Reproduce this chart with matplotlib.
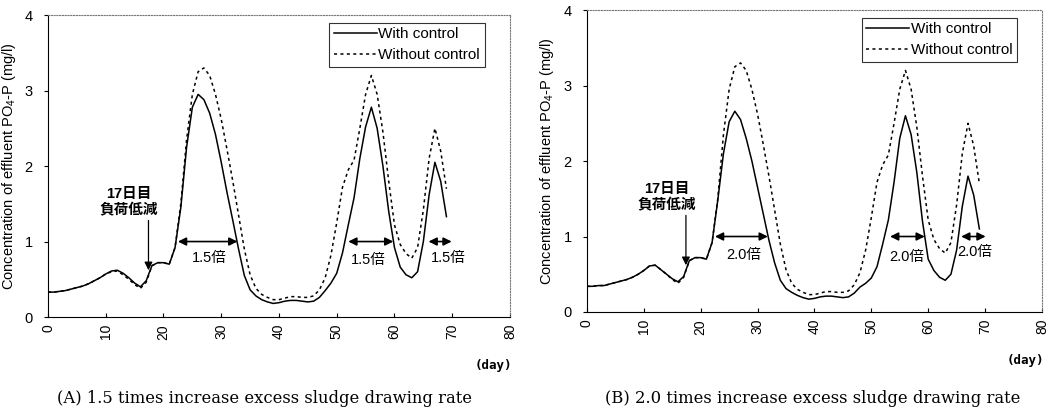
import matplotlib
matplotlib.use('Agg')
import matplotlib.pyplot as plt

plt.rcParams['font.family'] = ['Liberation Sans', 'Noto Sans CJK JP']
plt.rcParams['mathtext.fontset'] = 'custom'
plt.rcParams['mathtext.rm'] = 'Liberation Sans'
plt.rcParams['mathtext.it'] = 'Liberation Sans'

# 数据 (按天读取)
days = list(range(70))

a_with = [0.33, 0.33, 0.34, 0.35, 0.37, 0.39, 0.41, 0.44, 0.48, 0.52,
          0.57, 0.61, 0.62, 0.58, 0.52, 0.45, 0.40, 0.48, 0.68, 0.72,
          0.72, 0.70, 0.92, 1.45, 2.25, 2.78, 2.95, 2.88, 2.70, 2.42,
          2.05, 1.65, 1.28, 0.90, 0.55, 0.36, 0.28, 0.23, 0.20, 0.18,
          0.19, 0.21, 0.22, 0.22, 0.21, 0.20, 0.21, 0.26, 0.35, 0.45,
          0.58, 0.85, 1.22, 1.58, 2.10, 2.52, 2.78, 2.50, 2.00, 1.40,
          0.92, 0.66, 0.56, 0.52, 0.60, 1.00, 1.62, 2.05, 1.80, 1.33]
a_without = [0.33, 0.33, 0.34, 0.35, 0.37, 0.39, 0.41, 0.44, 0.48, 0.52,
             0.57, 0.60, 0.61, 0.56, 0.50, 0.43, 0.38, 0.46, 0.68, 0.72,
             0.72, 0.70, 0.92, 1.50, 2.35, 2.95, 3.25, 3.30, 3.20, 2.95,
             2.62, 2.22, 1.80, 1.35, 0.90, 0.56, 0.38, 0.30, 0.26, 0.23,
             0.23, 0.25, 0.27, 0.27, 0.26, 0.26, 0.28, 0.36, 0.52, 0.82,
             1.25, 1.72, 1.95, 2.08, 2.50, 2.95, 3.20, 2.95, 2.45, 1.80,
             1.22, 0.96, 0.84, 0.78, 0.92, 1.42, 2.10, 2.50, 2.20, 1.70]
b_with = [0.34, 0.34, 0.35, 0.35, 0.37, 0.39, 0.41, 0.43, 0.46, 0.50,
          0.55, 0.61, 0.62, 0.56, 0.50, 0.44, 0.40, 0.47, 0.68, 0.72,
          0.72, 0.70, 0.92, 1.48, 2.10, 2.52, 2.66, 2.55, 2.30, 2.00,
          1.65, 1.30, 0.95, 0.65, 0.42, 0.31, 0.26, 0.22, 0.19, 0.17,
          0.18, 0.20, 0.21, 0.21, 0.20, 0.19, 0.20, 0.25, 0.33, 0.38,
          0.45, 0.60, 0.90, 1.22, 1.72, 2.30, 2.60, 2.35, 1.85, 1.20,
          0.70, 0.55, 0.46, 0.42, 0.50, 0.82, 1.40, 1.80, 1.55, 1.10]
b_without = [0.34, 0.34, 0.35, 0.35, 0.37, 0.39, 0.41, 0.43, 0.46, 0.50,
             0.55, 0.61, 0.62, 0.56, 0.50, 0.43, 0.38, 0.46, 0.68, 0.72,
             0.72, 0.70, 0.92, 1.50, 2.35, 2.95, 3.25, 3.30, 3.20, 2.95,
             2.62, 2.22, 1.80, 1.35, 0.90, 0.56, 0.38, 0.30, 0.26, 0.23,
             0.23, 0.25, 0.27, 0.27, 0.26, 0.26, 0.28, 0.36, 0.52, 0.82,
             1.25, 1.72, 1.95, 2.08, 2.50, 2.95, 3.20, 2.95, 2.45, 1.80,
             1.22, 0.96, 0.84, 0.78, 0.92, 1.42, 2.10, 2.50, 2.20, 1.70]

# 双向箭头区间 (起点, 终点, 标签x, 标签y)
a_spans = [(22.5, 32.8, 28.0, 0.78), (52.0, 59.8, 55.5, 0.76), (65.9, 69.9, 69.3, 0.78)]
b_spans = [(22.5, 31.8, 27.5, 0.76), (53.3, 59.4, 56.2, 0.73), (65.8, 70.1, 68.1, 0.79)]
a_label = '1.5倍'
b_label = '2.0倍'

captions = ['(A) 1.5 times increase excess sludge drawing rate',
            '(B) 2.0 times increase excess sludge drawing rate']

x_ticks = list(range(0, 81, 10))
y_ticks = [0, 1, 2, 3, 4]


def draw_panel(ax, with_vals, without_vals, spans, span_label, caption, cap_x):
    ax.plot(days, with_vals, color='black', lw=1.1, label='With control')
    ax.plot(days, without_vals, color='black', lw=1.1, linestyle=(0, (2, 2.2)),
            label='Without control')

    ax.set_xlim(0, 80)
    ax.set_ylim(0, 4)
    ax.set_xticks(x_ticks)
    ax.set_yticks(y_ticks)
    ax.set_xticklabels([str(t) for t in x_ticks], rotation=90, fontsize=10)
    ax.set_yticklabels([str(t) for t in y_ticks], fontsize=10.5)
    ax.tick_params(axis='x', direction='in', length=3, pad=5)
    ax.tick_params(axis='y', direction='out', length=3, pad=8)

    for side in ['top', 'right']:
        ax.spines[side].set_color('#777777')
        ax.spines[side].set_linestyle((0, (1, 1.5)))
        ax.spines[side].set_linewidth(0.8)
    ax.spines['left'].set_linewidth(0.8)
    ax.spines['bottom'].set_linewidth(0.8)

    ax.set_ylabel('Concentration of effluent PO$_4$-P (mg/l)', fontsize=10.5, labelpad=5)
    ax.text(1.005, -0.14, '(day)', transform=ax.transAxes, ha='right', va='top',
            fontsize=9, fontweight='bold', family=['DejaVu Sans Mono'])

    leg = ax.legend(loc='upper right', bbox_to_anchor=(0.945, 0.975), fontsize=11,
                    frameon=True, fancybox=False, edgecolor='black',
                    handlelength=2.8, handletextpad=0.1, borderpad=0.3,
                    labelspacing=0.45, borderaxespad=0)
    leg.get_frame().set_linewidth(0.8)

    for x0, x1, tx, ty in spans:
        ax.annotate('', xy=(x1, 1.0), xytext=(x0, 1.0),
                    arrowprops=dict(arrowstyle='<|-|>', color='black', lw=1.2,
                                    mutation_scale=12, shrinkA=0, shrinkB=0))
        ax.text(tx, ty, span_label, ha='center', va='center', fontsize=10.5)

    ax.text(14.0, 1.52, '17日目\n負荷低減', ha='center', va='center', fontsize=10.5,
            fontweight='bold', linespacing=1.25)
    ax.annotate('', xy=(17.4, 0.62), xytext=(17.4, 1.28),
                arrowprops=dict(arrowstyle='-|>', color='black', lw=0.9,
                                mutation_scale=12, shrinkA=0, shrinkB=0))

    fig.text(cap_x, 0.014, caption, ha='left', va='bottom', fontsize=11.8,
             family=['DejaVu Serif'])


fig = plt.figure(figsize=(10.62, 4.13), dpi=100)
ax_a = fig.add_axes([0.0452, 0.2324, 0.435, 0.731])
ax_b = fig.add_axes([0.5527, 0.2446, 0.4284, 0.731])

draw_panel(ax_a, a_with, a_without, a_spans, a_label, captions[0], 57 / 1062)
draw_panel(ax_b, b_with, b_without, b_spans, b_label, captions[1], 605 / 1062)

fig.savefig('out.png', dpi=100)
